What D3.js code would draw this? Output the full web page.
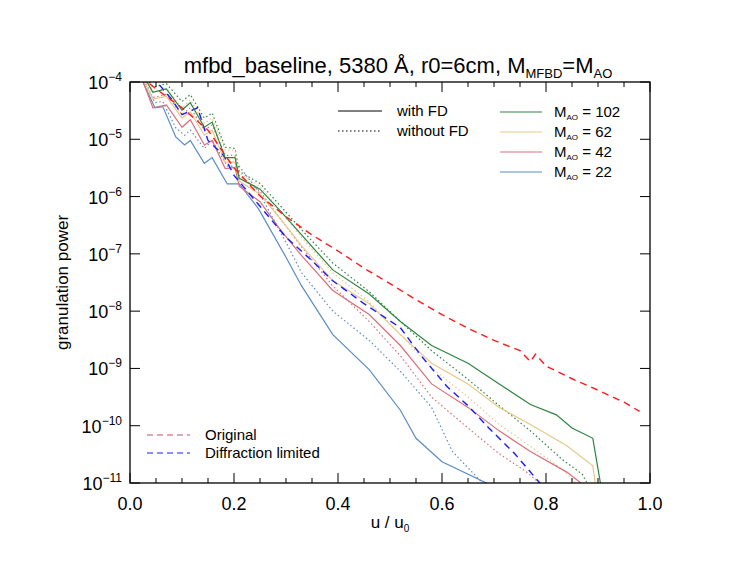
<!DOCTYPE html>
<html><head><meta charset="utf-8">
<script src="https://cdn.jsdelivr.net/npm/d3@7"></script>
<style>body{margin:0;background:#fff}text{font-family:"Liberation Sans",Arial,sans-serif}</style>
</head><body><svg id="c" width="747" height="578"></svg>
<script>
// values are log10(power)
const redU = [0.02,0.05,0.1,0.15,0.2,0.25,0.3,0.35,0.4,0.45,0.5,0.55,0.6,0.65,0.7,0.75,0.77,0.78,0.8,0.85,0.9,0.95,0.98];
const redV = [-3.90,-4.12,-4.45,-4.84,-5.50,-5.99,-6.35,-6.67,-6.95,-7.25,-7.52,-7.80,-8.06,-8.30,-8.51,-8.69,-8.88,-8.75,-8.96,-9.18,-9.38,-9.59,-9.75];
const difU = [0.02,0.05,0.08,0.1,0.13,0.15,0.18,0.2,0.25,0.3,0.35,0.39,0.45,0.52,0.56,0.61,0.65,0.69,0.74,0.79];
const difV = [-3.80,-3.98,-4.30,-4.57,-4.45,-5.02,-5.28,-5.63,-6.17,-6.71,-7.12,-7.47,-7.87,-8.29,-8.78,-9.32,-9.65,-10.04,-10.49,-11.02];

const u1 = [0.02,0.044,0.07,0.1,0.116,0.143,0.158,0.183,0.202,0.21,0.25,0.29,0.33,0.39,0.46,0.52,0.58,0.65,0.71,0.77,0.82,0.85,0.89,0.905];
const g102 = [-3.80,-4.18,-4.12,-4.49,-4.36,-4.79,-4.70,-5.32,-5.32,-5.68,-5.87,-6.26,-6.67,-7.28,-7.70,-8.18,-8.60,-8.91,-9.27,-9.63,-9.81,-10.04,-10.22,-11.02];
const u2 = [0.02,0.044,0.07,0.1,0.116,0.143,0.158,0.183,0.202,0.21,0.25,0.29,0.33,0.39,0.46,0.52,0.58,0.65,0.71,0.77,0.84,0.89,0.895];
const g62 = [-3.84,-4.30,-4.25,-4.63,-4.52,-4.93,-4.84,-5.40,-5.40,-5.73,-5.96,-6.40,-6.86,-7.47,-7.87,-8.41,-8.91,-9.27,-9.68,-9.98,-10.35,-10.70,-11.02];
const u3 = [0.02,0.044,0.07,0.1,0.116,0.143,0.158,0.183,0.202,0.21,0.25,0.29,0.33,0.39,0.46,0.52,0.58,0.65,0.71,0.77,0.84,0.87];
const g42 = [-3.87,-4.45,-4.40,-4.79,-4.66,-5.10,-5.02,-5.51,-5.49,-5.82,-6.09,-6.59,-7.03,-7.64,-8.06,-8.60,-9.27,-9.68,-10.09,-10.45,-10.81,-11.02];
const u4 = [0.02,0.048,0.063,0.088,0.105,0.116,0.143,0.158,0.187,0.21,0.247,0.3,0.33,0.39,0.46,0.52,0.55,0.6,0.69];
const g22 = [-3.91,-4.45,-4.43,-4.96,-5.10,-5.02,-5.42,-5.32,-5.78,-5.78,-6.21,-7.06,-7.56,-8.41,-9.02,-9.73,-10.22,-10.63,-11.02];

const d1u = [0.02,0.044,0.07,0.1,0.116,0.143,0.158,0.183,0.202,0.21,0.25,0.29,0.33,0.39,0.46,0.52,0.58,0.65,0.71,0.77,0.83,0.87,0.88];
const d102 = [-3.77,-4.09,-4.03,-4.34,-4.22,-4.63,-4.54,-5.14,-5.16,-5.56,-5.77,-6.17,-6.58,-7.16,-7.66,-8.18,-8.69,-9.19,-9.65,-10.09,-10.58,-10.85,-11.02];
const d2u = [0.02,0.044,0.07,0.1,0.116,0.143,0.158,0.183,0.202,0.21,0.25,0.29,0.33,0.39,0.46,0.52,0.58,0.65,0.71,0.77,0.83,0.86];
const d62 = [-3.80,-4.16,-4.12,-4.45,-4.31,-4.72,-4.63,-5.19,-5.19,-5.59,-5.82,-6.26,-6.71,-7.33,-7.84,-8.41,-8.99,-9.50,-9.98,-10.36,-10.75,-11.02];
const d3u = [0.02,0.044,0.07,0.1,0.116,0.143,0.158,0.183,0.202,0.21,0.25,0.29,0.33,0.39,0.46,0.52,0.58,0.65,0.71,0.76,0.79];
const d42 = [-3.84,-4.27,-4.22,-4.57,-4.45,-4.84,-4.75,-5.28,-5.28,-5.63,-5.91,-6.40,-6.88,-7.56,-8.18,-8.78,-9.50,-10.04,-10.49,-10.79,-11.02];
const d4u = [0.02,0.048,0.063,0.088,0.105,0.116,0.143,0.158,0.187,0.21,0.247,0.3,0.33,0.39,0.46,0.52,0.58,0.62,0.68];
const d22 = [-3.87,-4.36,-4.34,-4.80,-4.93,-4.84,-5.16,-5.02,-5.47,-5.47,-5.91,-6.80,-7.33,-8.00,-8.51,-9.05,-9.68,-10.45,-11.02];

const yTicks = [-4,-5,-6,-7,-8,-9,-10,-11];
const xTicks = [0,0.2,0.4,0.6,0.8,1.0];
const moLabels = ["102","62","42","22"];
const moColors = ["#2e8540","#e6c98a","#d9707c","#5b8cc2"];

const svg = d3.select("#c");
const L = 130, R = 650, T = 82, B = 483;
const x = d3.scaleLinear().domain([0,1]).range([L,R]);
const y = d3.scaleLinear().domain([-4,-11]).range([T,B]);

svg.append("clipPath").attr("id","cp").append("rect")
  .attr("x",L).attr("y",T).attr("width",R-L).attr("height",B-T);
const plot = svg.append("g").attr("clip-path","url(#cp)");
const line = d3.line().x(d => x(d[0])).y(d => y(d[1]));

function draw(us, vs, color, dash, w) {
  plot.append("path").datum(us.map((u,i) => [u, vs[i]]))
    .attr("d", line).attr("fill","none").attr("stroke",color)
    .attr("stroke-width", w || 1.2).attr("stroke-dasharray", dash);
}
draw(d1u,d102,moColors[0],"1.5,2.5");
draw(d2u,d62,moColors[1],"1.5,2.5");
draw(d3u,d42,moColors[2],"1.5,2.5");
draw(d4u,d22,moColors[3],"1.5,2.5");
draw(u4,g22,moColors[3],null);
draw(u3,g42,moColors[2],null);
draw(u2,g62,moColors[1],null);
draw(difU,difV,"#1a1aff","7,5",1.4);
draw(u1,g102,moColors[0],null);
draw(redU,redV,"#ff1a1a","7,5",1.4);

// frame and ticks
svg.append("rect").attr("x",L).attr("y",T).attr("width",R-L).attr("height",B-T)
  .attr("fill","none").attr("stroke","#000").attr("stroke-width",1.3);
d3.range(0,1.0001,0.05).forEach(v => {
  const major = Math.abs(v*5 - Math.round(v*5)) < 1e-6;
  const len = major ? 10 : 5;
  svg.append("line").attr("x1",x(v)).attr("x2",x(v)).attr("y1",B).attr("y2",B-len).attr("stroke","#000");
  svg.append("line").attr("x1",x(v)).attr("x2",x(v)).attr("y1",T).attr("y2",T+len).attr("stroke","#000");
});
yTicks.forEach(v => {
  svg.append("line").attr("x1",L).attr("x2",L+10).attr("y1",y(v)).attr("y2",y(v)).attr("stroke","#000");
  svg.append("line").attr("x1",R).attr("x2",R-10).attr("y1",y(v)).attr("y2",y(v)).attr("stroke","#000");
  const t = svg.append("text").attr("x",L-8).attr("y",y(v)+7).attr("text-anchor","end").attr("font-size",18);
  t.append("tspan").text("10");
  t.append("tspan").attr("dy",-8).attr("font-size",12).text("−" + (-v));
});
xTicks.forEach(v => {
  svg.append("text").attr("x",x(v)).attr("y",B+27).attr("text-anchor","middle")
    .attr("font-size",18).text(v.toFixed(1));
});

// axis labels and title
const xl = svg.append("text").attr("x",(L+R)/2).attr("y",528).attr("text-anchor","middle").attr("font-size",17);
xl.append("tspan").text("u / u");
xl.append("tspan").attr("dy",4).attr("font-size",10).text("0");
svg.append("text").attr("transform",`translate(68,${(T+B)/2}) rotate(-90)`)
  .attr("text-anchor","middle").attr("font-size",17).text("granulation power");
const ti = svg.append("text").attr("x",(L+R)/2+8).attr("y",73).attr("text-anchor","middle").attr("font-size",22);
ti.append("tspan").text("mfbd_baseline, 5380 Å, r0=6cm, M");
ti.append("tspan").attr("dy",5).attr("font-size",13).text("MFBD");
ti.append("tspan").attr("dy",-5).text("=M");
ti.append("tspan").attr("dy",5).attr("font-size",13).text("AO");

// legends
[["with FD",null],["without FD","1.5,2.5"]].forEach((d,i) => {
  const yy = 111 + i*20;
  svg.append("line").attr("x1",338).attr("x2",382).attr("y1",yy).attr("y2",yy)
    .attr("stroke","#000").attr("stroke-dasharray",d[1]);
  svg.append("text").attr("x",397).attr("y",yy+5).attr("font-size",15).text(d[0]);
});
moLabels.forEach((m,i) => {
  const yy = 112 + i*20;
  svg.append("line").attr("x1",500).attr("x2",542).attr("y1",yy).attr("y2",yy).attr("stroke",moColors[i]).attr("stroke-width",1.2);
  const t = svg.append("text").attr("x",554).attr("y",yy+5).attr("font-size",15);
  t.append("tspan").text("M");
  t.append("tspan").attr("dy",3).attr("font-size",8).text("AO");
  t.append("tspan").attr("dy",-3).text(" = " + m);
});
[["Original","#c0505e"],["Diffraction limited","#1a1aff"]].forEach((d,i) => {
  const yy = 435 + i*18;
  svg.append("line").attr("x1",147).attr("x2",190).attr("y1",yy).attr("y2",yy)
    .attr("stroke",d[1]).attr("stroke-dasharray","6,4");
  svg.append("text").attr("x",205).attr("y",yy+5).attr("font-size",15).text(d[0]);
});
</script></body></html>
